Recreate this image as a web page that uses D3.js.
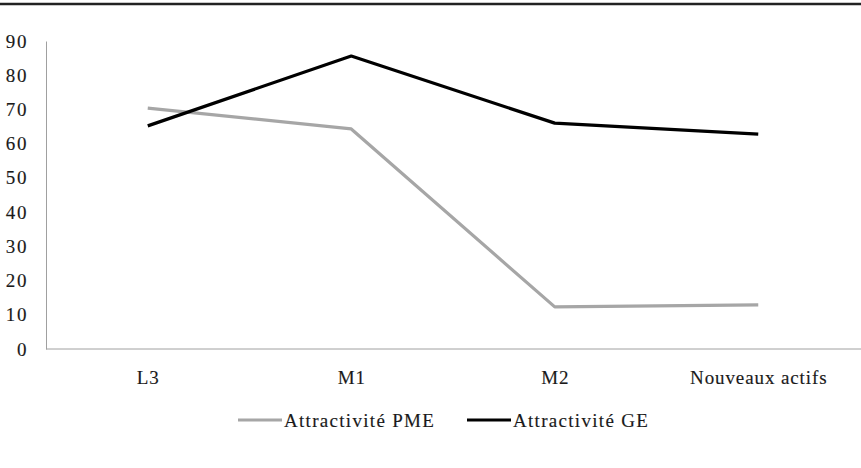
<!DOCTYPE html>
<html><head><meta charset="utf-8">
<script src="https://cdn.jsdelivr.net/npm/d3@7"></script>
<style>body{margin:0;background:#fff}svg{display:block}text{font-family:"Liberation Serif","DejaVu Serif",serif;fill:#1a1a1a;stroke:#1a1a1a;stroke-width:0.15px;letter-spacing:0.9px}</style>
</head><body>
<svg id="c" width="861" height="468"></svg>
<script>
const categories = ["L3", "M1", "M2", "Nouveaux actifs"];
const pme = [70.4, 64.3, 12.3, 12.9];
const ge = [65.2, 85.6, 66.0, 62.8];
const yTicks = [0, 10, 20, 30, 40, 50, 60, 70, 80, 90];
const seriesNames = ["Attractivité PME", "Attractivité GE"];
const seriesColors = ["#a6a6a6", "#000000"];
const FONT = "Liberation Serif";

const svg = d3.select("#c");
const x = d3.scalePoint().domain(categories).range([46, 860]).padding(0.5);
const y = d3.scaleLinear().domain([0, 90]).range([349, 41]);

// top rule
svg.append("line").attr("x1", 0).attr("x2", 861).attr("y1", 4).attr("y2", 4)
  .attr("stroke", "#222").attr("stroke-width", 2.5);

// y axis
const ya = svg.append("g").attr("transform", "translate(46,0)")
  .call(d3.axisLeft(y).tickValues(yTicks).tickSize(0).tickPadding(18));
ya.attr("font-family", FONT);
ya.select(".domain").attr("stroke", "#a0a0a0");
ya.selectAll("text").attr("font-size", 19).attr("fill", "#1a1a1a").style("letter-spacing", "1.6px");

// x axis
const xa = svg.append("g").attr("transform", "translate(0,349)")
  .call(d3.axisBottom(x).tickSize(0).tickPadding(22));
xa.attr("font-family", FONT);
xa.select(".domain").attr("d", "M46,0H861").attr("stroke", "#a0a0a0");
xa.selectAll("text").attr("font-size", 19).attr("fill", "#1a1a1a");

const line = d3.line().x((d, i) => x(categories[i])).y(d => y(d));
[pme, ge].forEach((s, k) => {
  svg.append("path").attr("d", line(s)).attr("fill", "none")
    .attr("stroke", seriesColors[k]).attr("stroke-width", 3.2).attr("stroke-linejoin", "round");
});

// legend
const lx = [238, 467];
seriesNames.forEach((n, k) => {
  svg.append("line").attr("x1", lx[k]).attr("x2", lx[k] + 44).attr("y1", 420).attr("y2", 420)
    .attr("stroke", seriesColors[k]).attr("stroke-width", 3.2);
  svg.append("text").attr("x", lx[k] + 46).attr("y", 420).attr("dy", "0.35em")
    .attr("font-family", FONT).attr("font-size", 19).style("letter-spacing", "1.3px").text(n);
});
</script>
</body></html>
